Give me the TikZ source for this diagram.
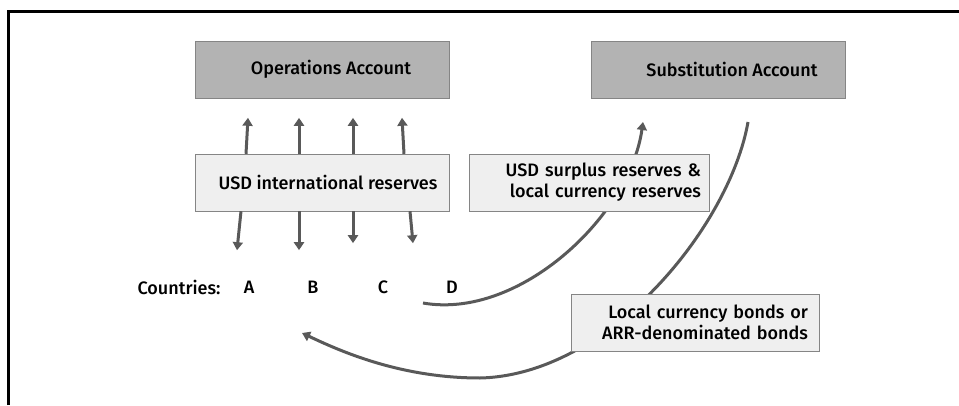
\documentclass[tikz,border=0pt]{standalone}
\usepackage{fontspec}
\setmainfont{Fira Sans}[UprightFont = * Medium]
\usetikzlibrary{arrows.meta}
\definecolor{acctgray}{HTML}{B3B3B3}
\definecolor{flowgray}{HTML}{EFEFEF}
\definecolor{edgegray}{HTML}{858585}
\definecolor{arrowgray}{HTML}{595959}
\begin{document}
\begin{tikzpicture}[x = 1pt, y = 1pt, font = \fontsize{18}{21}\selectfont,
        acct/.style = {draw = edgegray, fill = acctgray, minimum width = 254pt, minimum height = 57pt, inner sep = 0pt},
        flow/.style = {draw = edgegray, fill = flowgray, minimum height = 57pt, inner sep = 0pt},
        move/.style = {draw = arrowgray, line width = 3pt, -{Triangle[width = 10pt, length = 8pt]}}]
    \useasboundingbox (0, 0) rectangle (959, 405);
    \draw[line width = 3pt] (8, 0) |- (959, 393);
    % curved flows, drawn first so the boxes sit on top
    \coordinate (dout) at (423, 102);
    \coordinate (sin) at (643, 283);
    \coordinate (sout) at (748, 283);
    \coordinate (low) at (480, 27);
    \coordinate (bin) at (302, 72);
    \draw[move] (dout) .. controls (520, 85) and (630, 190) .. (sin);
    \draw[move] (sout) .. controls (730, 180) and (610, 30) .. (low) .. controls (400, 27) and (340, 54) .. (bin);
    % accounts and flows
    \node[acct] (ops) at (322, 335.5) {\hspace*{18pt}Operations Account};
    \node[acct] (subst) at (718, 335.5) {\hspace*{28pt}Substitution Account};
    \node[flow, minimum width = 254pt] (usd) at (322, 222.5) {\hspace*{12pt}USD international reserves};
    \node[flow, minimum width = 240pt, text width = 224pt, align = right] (surplus) at (589, 222.5) {USD surplus reserves \&\\ local currency reserves};
    \node[flow, minimum width = 248pt, text width = 226pt, align = right] (bonds) at (695, 82.5) {Local currency bonds or\\ ARR-denominated bonds};
    \node (ctry) at (179, 118) {Countries:};
    \node (ca) at (249, 118) {A};
    \node (cb) at (313, 118) {B};
    \node (cc) at (383, 118) {C};
    \node (cd) at (452, 118) {D};
    % straight flows to and from the operations account
    \draw[move] ([xshift = -76pt]usd.north) -- ++(2, 36);
    \draw[move] ([xshift = -23pt]usd.north) -- ++(0, 36);
    \draw[move] ([xshift = 31pt]usd.north) -- ++(0, 36);
    \draw[move] ([xshift = 82pt]usd.north) -- ++(-2, 36);
    \draw[move] ([xshift = -81pt]usd.south) -- ++(-4, -39);
    \draw[move] ([xshift = -23pt]usd.south) -- ++(0, -39);
    \draw[move] ([xshift = 31pt]usd.south) -- ++(0, -32);
    \draw[move] ([xshift = 88pt]usd.south) -- ++(3, -32);
\end{tikzpicture}
\end{document}
